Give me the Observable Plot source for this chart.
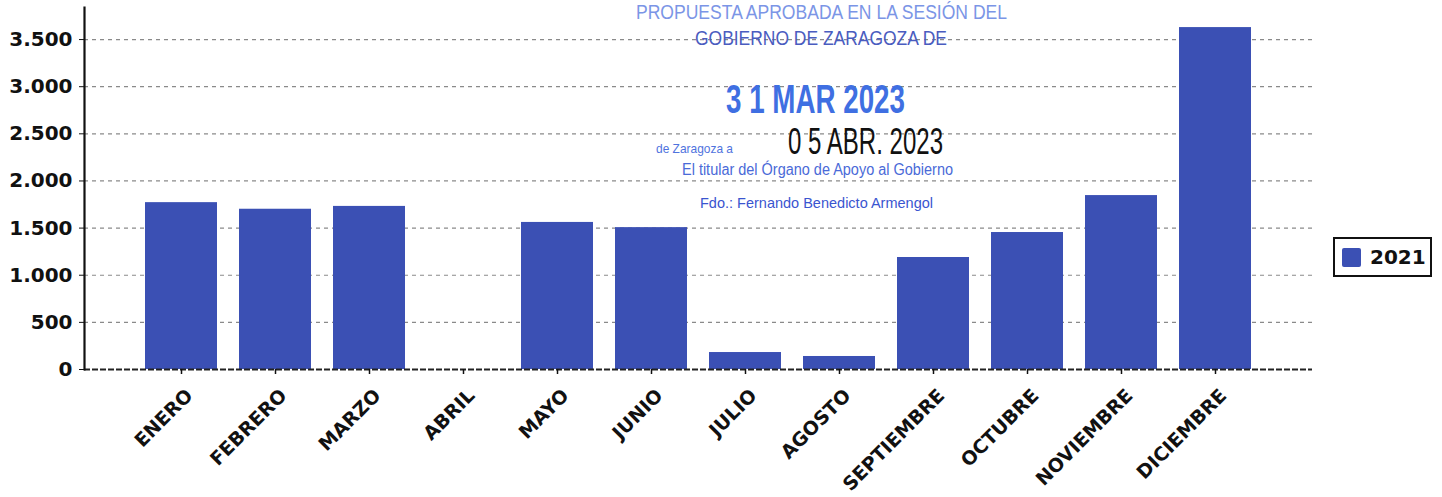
<!DOCTYPE html>
<html>
<head>
<meta charset="utf-8">
<script src="https://cdn.jsdelivr.net/npm/d3@7"></script>
<script src="https://cdn.jsdelivr.net/npm/@observablehq/plot@0.6"></script>
<style>
  html, body { margin: 0; padding: 0; background: #fff; }
  #wrap { position: relative; width: 1442px; height: 497px; overflow: hidden; font-family: "DejaVu Sans", sans-serif; }
  #legend { position: absolute; left: 1333px; top: 237px; width: 95px; height: 36px; border: 2px solid #111; background: #fff;
            display: flex; align-items: center; box-sizing: content-box; }
  #legend .sw { width: 19px; height: 19px; background: #3b50b4; margin-left: 7px; margin-right: 9px; border-radius: 2px; }
  #legend .lb { font-weight: bold; font-size: 20px; color: #111; }
  #stamp { position: absolute; left: 0; top: 0; pointer-events: none; }
</style>
</head>
<body>
<div id="wrap"></div>
<script>
// ---- data ----
const months = ["ENERO","FEBRERO","MARZO","ABRIL","MAYO","JUNIO","JULIO","AGOSTO","SEPTIEMBRE","OCTUBRE","NOVIEMBRE","DICIEMBRE"];
const values2021 = [1770, 1700, 1730, 0, 1560, 1505, 180, 138, 1188, 1453, 1845, 3627];
const yTicks = [0, 500, 1000, 1500, 2000, 2500, 3000, 3500];
const seriesName = "2021";
const barColor = "#3b50b4";

// stamp texts (scanned document overlay)
const stampLines = [
  {text: "PROPUESTA APROBADA EN LA SESIÓN DEL", x: 636, y: 19, w: 371, size: 20, fill: "#7b95e6", weight: "normal"},
  {text: "GOBIERNO DE ZARAGOZA DE", x: 695, y: 45, w: 252, size: 21, fill: "#4a5cbf", weight: "normal"},
  {text: "3 1 MAR 2023", x: 726, y: 113, w: 179, size: 41, fill: "#3f6fe2", weight: "bold"},
  {text: "de Zaragoza a", x: 656, y: 153, w: 77, size: 13, fill: "#4f73de", weight: "normal"},
  {text: "0 5 ABR. 2023", x: 788, y: 154, w: 155, size: 37, fill: "#111", weight: "normal"},
  {text: "El titular del Órgano de Apoyo al Gobierno", x: 682, y: 175, w: 271, size: 16, fill: "#4a6ad8", weight: "normal"},
  {text: "Fdo.: Fernando Benedicto Armengol", x: 700, y: 208, w: 233, size: 15, fill: "#3a55d0", weight: "normal"}
];

const data = months.map((m, i) => ({month: m, value: values2021[i]}));
const esLocale = d3.formatLocale({decimal: ",", thousands: ".", grouping: [3], currency: ["", "€"]});
const fmt = esLocale.format(",d");

const chart = Plot.plot({
  width: 1442,
  height: 497,
  marginLeft: 84,
  marginRight: 130,
  marginTop: 7,
  marginBottom: 128,
  style: {fontFamily: "DejaVu Sans, sans-serif", color: "#111", background: "transparent"},
  x: {domain: months, paddingInner: 0.236, paddingOuter: 0.618, label: null},
  y: {domain: [0, 3840], label: null},
  marks: [
    Plot.gridY(yTicks, {stroke: "#8a8a8a", strokeOpacity: 1, strokeDasharray: "4,4", strokeWidth: 1.2}),
    Plot.barY(data, {x: "month", y: "value", fill: barColor}),
    Plot.ruleY([0], {stroke: "#222", strokeWidth: 2, strokeDasharray: "6,2"}),
    Plot.frame({anchor: "left", stroke: "#111", strokeWidth: 2.2}),
    Plot.axisY(yTicks, {tickFormat: fmt, fontSize: 20, fontWeight: "bold", tickSize: 5, tickPadding: 7, label: null}),
    Plot.axisX({tickSize: 5, tickFormat: () => "", label: null, strokeWidth: 1.5}),
    Plot.axisX({tickRotate: -45, fontSize: 19, fontWeight: "bold", tickSize: 0, tickPadding: 9, label: null, dx: 8, dy: 14})
  ]
});

const wrap = document.getElementById("wrap");
wrap.appendChild(chart);

// legend
const legend = document.createElement("div");
legend.id = "legend";
legend.innerHTML = `<div class="sw"></div><div class="lb">${seriesName}</div>`;
wrap.appendChild(legend);

// stamp overlay
const svgNS = "http://www.w3.org/2000/svg";
const stamp = document.createElementNS(svgNS, "svg");
stamp.setAttribute("id", "stamp");
stamp.setAttribute("width", 1442);
stamp.setAttribute("height", 497);
for (const s of stampLines) {
  const t = document.createElementNS(svgNS, "text");
  t.setAttribute("x", s.x);
  t.setAttribute("y", s.y);
  t.setAttribute("font-family", "Liberation Sans Narrow, Liberation Sans, Arial, sans-serif");
  t.setAttribute("font-size", s.size);
  t.setAttribute("font-weight", s.weight);
  t.setAttribute("fill", s.fill);
  t.setAttribute("textLength", s.w);
  t.setAttribute("lengthAdjust", "spacingAndGlyphs");
  t.textContent = s.text;
  stamp.appendChild(t);
}
wrap.appendChild(stamp);
</script>
</body>
</html>
